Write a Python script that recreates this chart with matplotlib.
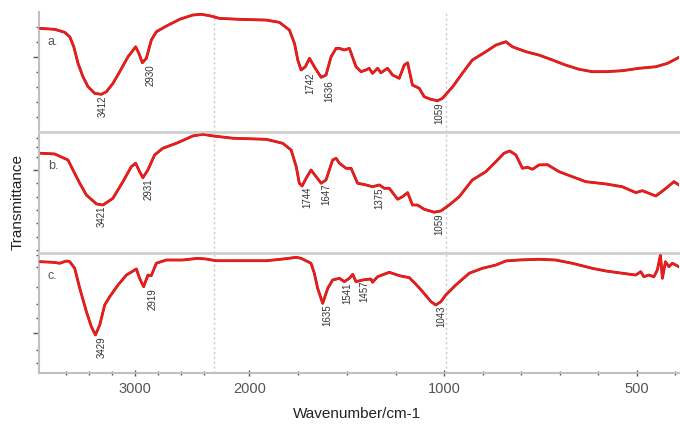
import numpy as np
import matplotlib
matplotlib.use('Agg')
import matplotlib.pyplot as plt

plt.rcParams['font.family'] = ['Liberation Sans', 'DejaVu Sans']

# spectrum a
wn_a = [3826, 3696, 3609, 3565, 3530, 3493, 3450, 3406, 3348, 3290, 3246, 3189, 3130, 3058, 2991,
        2963, 2933, 2898, 2855, 2811, 2724, 2609, 2493, 2420, 2348, 2261, 2087, 1914, 1846, 1795,
        1769, 1752, 1735, 1713, 1692, 1667, 1632, 1607, 1581, 1555, 1538, 1513, 1487, 1453, 1427,
        1402, 1385, 1368, 1342, 1325, 1291, 1265, 1231, 1205, 1188, 1163, 1128, 1103, 1068, 1034,
        1009, 978, 953, 927, 892, 866, 840, 823, 788, 754, 719, 685, 650, 616, 581,
        538, 495, 451, 421, 391]
t_a = [86.4, 85.6, 83.1, 79.4, 71.1, 57.3, 46.2, 37.9, 32.4, 31.6, 33.7, 40.7, 50.4, 62.8, 71.1,
       65.6, 57.8, 61.5, 76.7, 83.6, 88.3, 93.9, 97.5, 98.1, 96.9, 94.7, 93.9, 93.3, 91.4, 85.0,
       74.0, 60.1, 51.8, 54.5, 61.5, 54.5, 45.7, 47.6, 62.8, 69.8, 69.8, 68.4, 69.8, 54.5, 50.4,
       51.8, 53.2, 49.0, 53.2, 49.5, 53.2, 47.6, 44.9, 55.9, 57.8, 39.3, 36.6, 29.6, 27.4, 26.3,
       28.3, 37.9, 49.0, 60.1, 67.0, 72.5, 75.3, 71.1, 67.0, 64.2, 60.1, 55.9, 52.4, 50.4, 50.4,
       51.2, 53.2, 54.5, 57.3, 62.3]

# spectrum b
wn_b = [3811, 3696, 3580, 3537, 3478, 3420, 3333, 3276, 3189, 3102, 3029, 2991, 2957, 2928, 2885,
        2826, 2754, 2637, 2493, 2406, 2319, 2145, 1914, 1829, 1786, 1760, 1744, 1730, 1709, 1684,
        1658, 1632, 1607, 1573, 1555, 1538, 1504, 1478, 1445, 1402, 1368, 1333, 1308, 1282, 1239,
        1214, 1188, 1163, 1137, 1103, 1051, 1017, 987, 961, 927, 892, 866, 845, 830, 814,
        797, 784, 771, 754, 732, 702, 668, 633, 581, 538, 503, 486, 451, 430, 404, 391]
t_b = [82.6, 82.0, 77.0, 68.7, 57.7, 47.9, 40.5, 39.6, 45.2, 59.0, 71.5, 74.3, 67.3, 62.3, 68.7,
       81.2, 86.8, 90.9, 97.0, 98.4, 97.0, 95.1, 94.2, 90.9, 85.3, 71.5, 57.7, 55.4, 61.8, 68.7,
       63.2, 57.7, 60.4, 77.0, 78.4, 74.3, 70.1, 70.1, 57.7, 56.3, 54.8, 56.3, 53.5, 53.5, 44.4,
       46.5, 49.9, 39.6, 39.6, 36.1, 33.6, 34.7, 39.6, 46.5, 60.4, 67.3, 75.6, 82.6, 84.5, 81.2,
       70.1, 71.0, 69.3, 72.9, 73.1, 67.3, 63.2, 59.0, 57.1, 54.8, 49.9, 51.5, 47.1, 52.1, 59.0, 56.3]

# spectrum c
wn_c = [3826, 3711, 3652, 3594, 3565, 3522, 3478, 3420, 3377, 3342, 3304, 3261, 3217, 3145, 3072,
        2985, 2957, 2922, 2884, 2855, 2811, 2724, 2580, 2450, 2377, 2290, 2000, 1914, 1829, 1760,
        1735, 1684, 1667, 1650, 1624, 1598, 1573, 1538, 1513, 1487, 1470, 1453, 1419, 1376, 1368,
        1342, 1282, 1231, 1179, 1145, 1111, 1068, 1043, 1017, 996, 970, 935, 901, 866, 840,
        806, 754, 711, 668, 616, 581, 538, 503, 490, 482, 469, 456, 447, 439, 434,
        426, 417, 408, 391]
t_c = [92.5, 92.0, 91.2, 93.1, 92.5, 87.0, 70.4, 50.9, 38.5, 31.6, 39.9, 56.5, 63.4, 73.1, 81.4,
       86.4, 78.7, 71.7, 81.4, 80.9, 91.2, 93.9, 93.9, 95.3, 94.7, 93.3, 93.3, 93.3, 94.7, 96.1,
       95.3, 91.2, 82.9, 70.4, 57.9, 70.4, 77.3, 78.7, 75.9, 78.7, 82.0, 75.9, 77.3, 78.1, 75.4,
       80.0, 83.7, 80.9, 79.2, 73.7, 67.6, 59.3, 56.5, 59.3, 64.8, 73.1, 82.9, 87.0, 89.7, 93.1,
       93.9, 94.5, 93.9, 91.2, 87.0, 84.8, 82.9, 81.4, 84.2, 80.0, 81.4, 80.0, 85.6, 98.1, 78.7,
       92.5, 88.3, 91.2, 88.3]

# peak labels: text, x where the label sits, top of the label
peaks_a = ['3412', '2930', '1742', '1636', '1059']
peak_x_a = [3322, 2904, 1713, 1615, 1051]
peak_y_a = [30.2, 56.8, 50.1, 43.5, 25.2]
peaks_b = ['3421', '2931', '1744', '1647', '1375', '1059']
peak_x_b = [3330, 2922, 1728, 1631, 1359, 1051]
peak_y_b = [38.8, 62.1, 54.6, 57.9, 53.8, 33.0]
peaks_c = ['3429', '2919', '1635', '1541', '1457', '1043']
peak_x_c = [3330, 2887, 1626, 1523, 1436, 1041]
peak_y_c = [30.7, 70.6, 57.3, 74.8, 76.5, 55.7]

panel_names = ['a.', 'b.', 'c.']
name_y = [75, 72, 81]

major_x = [3000, 2000, 1000, 500]
minor_x = [3600, 3400, 3200, 2800, 2600, 2400, 1750, 1500, 1250, 900, 800, 700, 600, 400]
guide_x = [2313, 995]

ytick_major = [[62.5], [68.5], [33]]
ytick_minor = [[12.5, 25, 37.5, 50, 75, 87.5],
               [2, 13, 24.5, 35.5, 46, 57.5, 79.5, 88, 95],
               [8.3, 19, 45.7, 57.2, 71.5, 88, 98]]

# piecewise linear wavenumber axis (scale changes at 2000 and 1000)
BRK_W = [-1000, 1000, 2000, 10000]
BRK_P = [-772, 0, 195, 1115]


def fwd(w):
    return np.interp(w, BRK_W, BRK_P)


def inv(p):
    return np.interp(p, BRK_P, BRK_W)


fig, axes = plt.subplots(3, 1, sharex=True, figsize=(6.8, 4.24), dpi=100)
fig.subplots_adjust(left=0.057, right=0.999, top=0.9717, bottom=0.1203, hspace=0)

data = [(wn_a, t_a, peaks_a, peak_x_a, peak_y_a),
        (wn_b, t_b, peaks_b, peak_x_b, peak_y_b),
        (wn_c, t_c, peaks_c, peak_x_c, peak_y_c)]

for i, ax in enumerate(axes):
    wn, t, pk, pkx, pky = data[i]
    ax.set_xscale('function', functions=(fwd, inv))
    ax.set_xlim(3835, 390)
    ax.set_ylim(0, 100)
    for g in guide_x:
        ax.axvline(g, color='#c8c8c8', lw=1, ls=(0, (1.5, 2)), zorder=0)
    ax.plot(wn, t, color='#a81a1a', lw=2.0, solid_joinstyle='round', zorder=2)
    ax.plot(wn, t, color='#f01c1c', lw=1.5, solid_joinstyle='round', zorder=3)
    for s, x, y in zip(pk, pkx, pky):
        ax.text(x, y, s, rotation=90, ha='left', va='top', fontsize=7, color='#333333')
    ax.text(3757, name_y[i], panel_names[i], ha='left', va='center', fontsize=9, color='#555555')

    ax.spines['right'].set_visible(False)
    ax.spines['left'].set_color('#c0c0c0')
    ax.spines['left'].set_linewidth(1.5)
    if i == 0:
        ax.spines['top'].set_visible(False)
    else:
        ax.spines['top'].set_color('#cfcfcf')
        ax.spines['top'].set_linewidth(2)
    if i < 2:
        ax.spines['bottom'].set_visible(False)
        ax.tick_params(axis='x', which='both', bottom=False, labelbottom=False)
    else:
        ax.spines['bottom'].set_color('#c0c0c0')
        ax.spines['bottom'].set_linewidth(1.5)

    ax.set_yticks(ytick_major[i])
    ax.set_yticks(ytick_minor[i], minor=True)
    ax.tick_params(axis='y', which='both', labelleft=False, color='#555555', width=1)
    ax.tick_params(axis='y', which='major', length=4)
    ax.tick_params(axis='y', which='minor', length=2)

ax = axes[2]
ax.set_xticks(major_x)
ax.set_xticklabels([str(v) for v in major_x])
ax.set_xticks(minor_x, minor=True)
ax.tick_params(axis='x', which='both', direction='inout', color='#555555', width=1,
               labelsize=10.5, labelcolor='#555555', pad=4)
ax.tick_params(axis='x', which='major', length=5)
ax.tick_params(axis='x', which='minor', length=3)

fig.text(357 / 680, 1 - 414 / 424, 'Wavenumber/cm-1', ha='center', va='center',
         fontsize=11, color='#222222')
fig.text(18 / 680, 1 - 202 / 424, 'Transmittance', ha='center', va='center',
         rotation=90, fontsize=11, color='#222222')

fig.savefig('out.png', dpi=100)
